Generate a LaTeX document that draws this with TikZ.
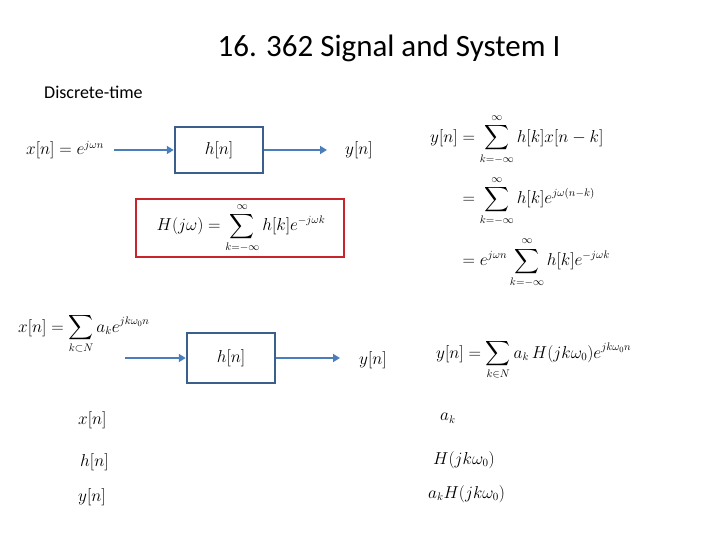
\documentclass[tikz,border=0pt]{standalone}
\usepackage{amsmath}
\usepackage{fontspec}
\setmainfont{Carlito}
\usetikzlibrary{arrows.meta}
\definecolor{arrowblue}{HTML}{4A7EBB}
\definecolor{boxblue}{HTML}{3A5F8C}
\definecolor{boxred}{HTML}{C8242B}
\tikzset{
  sysbox/.style={draw=boxblue, line width=2.5pt, minimum width=88pt, minimum height=46pt, inner sep=0pt, font=\fontsize{17}{20}\selectfont},
  sigarrow/.style={draw=arrowblue, line width=2.5pt, -{Triangle[length=7pt,width=8pt]}},
  eq/.style={inner sep=0pt, font=\fontsize{16}{19}\selectfont}
}
\begin{document}
\begin{tikzpicture}[x=1pt,y=-1pt]
\useasboundingbox (0,0) rectangle (720,540);
\node[inner sep=0pt, font=\fontsize{31}{36}\selectfont] (title) at (389,48) {16. 362 Signal and System I};
\node[inner sep=0pt, anchor=west, font=\fontsize{18}{21}\selectfont] (dt) at (44,92) {Discrete-time};

% first system
\node[eq, anchor=west] (x1) at (26,150) {$x[n]=e^{j\omega n}$};
\node[sysbox] (h1) at (219,150) {$h[n]$};
\node[eq, anchor=west] (y1) at (345,150) {$y[n]$};
\coordinate (a1) at (114,150);
\coordinate (b1) at (327,150);
\draw[sigarrow] (a1) -- (h1.west);
\draw[sigarrow] (h1.east) -- (b1);

% red box
\node[draw=boxred, line width=2.5pt, minimum width=208pt, minimum height=58pt, inner sep=0pt] (hr) at (240,228) {};
\node[eq] (Hjw) at (241,228) {$\displaystyle H(j\omega)=\sum_{k=-\infty}^{\infty}h[k]e^{-j\omega k}$};

% right equations
\node[eq, anchor=north west] (yeq) at (430,114) {$\begin{aligned}
y[n] &= \sum_{k=-\infty}^{\infty}h[k]x[n-k]\\[7pt]
&= \sum_{k=-\infty}^{\infty}h[k]e^{j\omega(n-k)}\\[7pt]
&= e^{j\omega n}\sum_{k=-\infty}^{\infty}h[k]e^{-j\omega k}
\end{aligned}$};

% second system
\node[eq, anchor=west] (x2) at (18,334) {$\displaystyle x[n]=\sum_{k\subset N}a_k e^{jk\omega_0 n}$};
\node[sysbox, minimum height=50pt] (h2) at (231,358) {$h[n]$};
\node[eq, anchor=west] (y2) at (359,360) {$y[n]$};
\coordinate (a2) at (125,358);
\coordinate (b2) at (340,358);
\draw[sigarrow] (a2) -- (h2.west);
\draw[sigarrow] (h2.east) -- (b2);
\node[eq, anchor=west] (y2eq) at (436,360) {$\displaystyle y[n]=\sum_{k\in N}a_k\, H(jk\omega_0)e^{jk\omega_0 n}$};

% bottom lists
\node[eq, anchor=west] (xl) at (78,420) {$x[n]$};
\node[eq, anchor=west] (hl) at (80,462) {$h[n]$};
\node[eq, anchor=west] (yl) at (78,497) {$y[n]$};
\node[eq, anchor=west] (al) at (440,418) {$a_k$};
\node[eq, anchor=west] (Hl) at (433,460) {$H(jk\omega_0)$};
\node[eq, anchor=west] (aHl) at (428,494) {$a_k H(jk\omega_0)$};
\end{tikzpicture}
\end{document}
